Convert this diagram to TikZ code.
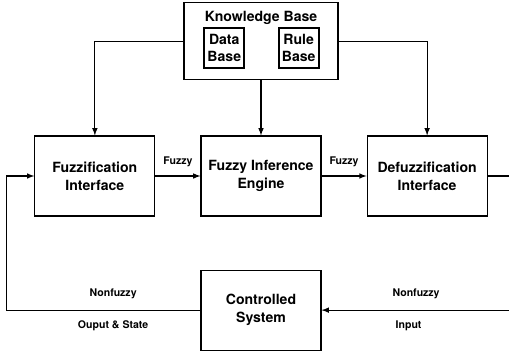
\documentclass[tikz,border=0pt]{standalone}
\usepackage{fontspec}
\setmainfont{TeX Gyre Heros}
\usepackage{tikz}
\usetikzlibrary{positioning}
\tikzset{block/.style={draw=black, rectangle, align=center, minimum width=3cm, minimum height=2cm, inner sep=2pt, font=\bfseries\fontsize{10}{13}\selectfont}}
\tikzset{kbox/.style={draw=black, rectangle, minimum width=3.85cm, minimum height=1.925cm}}
\tikzset{basebox/.style={draw=black, rectangle, align=center, line width=1.2pt, minimum width=1cm, minimum height=1cm, inner sep=1.5pt, font=\bfseries\fontsize{10}{12}\selectfont}}

\begin{document}
\begin{tikzpicture}[node distance={1.2cm}, thick, >=latex]
		\useasboundingbox (0,0) rectangle (12.725,-8.775);
		\node[block] (fie) at (6.525,-4.4) {Fuzzy Inference\\Engine};
		\node[block] (fuzz) [left=1.125cm of fie] {Fuzzification\\Interface};
		\node[block] (defuzz) [right=1.125cm of fie] {Defuzzification\\Interface};
		\node[kbox] (kb) [above=1.375cm of fie] {};
		\node[font=\bfseries\fontsize{10}{12}\selectfont] (kbtitle) [below=0.1cm of kb.north] {Knowledge Base};
		\node[basebox] (db) [below right=0.625cm and 0.5cm of kb.north west] {Data\\Base};
		\node[basebox] (rb) [below left=0.625cm and 0.475cm of kb.north east] {Rule\\Base};
		\node[block] (cs) [below=1.325cm of fie] {Controlled\\System};
		
		\draw[->] (kb.west) -| (fuzz.north);
		\draw[->] (kb.south) -- (fie.north);
		\draw[->] (kb.east) -| (defuzz.north);
		\begin{scope}[font=\bfseries\fontsize{7.5}{9}\selectfont]
			\draw[->] (fuzz) -- node[midway, above, yshift=3pt] {Fuzzy} (fie);
			\draw[->] (fie) -- node[midway, above, yshift=3pt] {Fuzzy} (defuzz);
			\draw[->] (defuzz.east) -- ++(0.575,0) |- node[pos=0.75, above, yshift=4pt] {Nonfuzzy} node[pos=0.77, below, yshift=-4pt] {Input} (cs.east);
			\draw[->] (cs.west) -- node[pos=0.45, above, yshift=4pt] {Nonfuzzy} node[pos=0.45, below, yshift=-4pt] {Ouput \& State} ++(-4.85,0) |- (fuzz.west);
		\end{scope}
	\end{tikzpicture}
\end{document}
